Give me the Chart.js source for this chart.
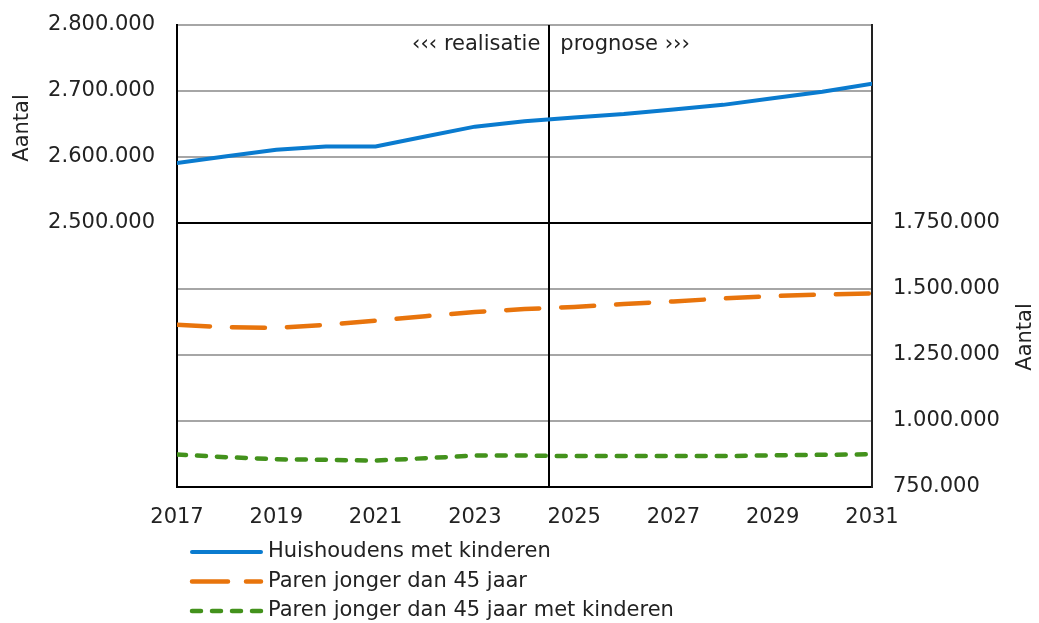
<!DOCTYPE html>
<html lang="nl">
<head>
    <meta charset="UTF-8">
    <title>Huishoudens met kinderen</title>
    <script src="https://cdn.jsdelivr.net/npm/chart.js"></script>
    <style>
        html, body { margin: 0; padding: 0; background: #fff; }
        #wrap { width: 1039px; height: 623px; position: relative; }
    </style>
</head>
<body>
<div id="wrap"><canvas id="myChart"></canvas></div>
<script>
    // data
    var jaren = [2017, 2018, 2019, 2020, 2021, 2022, 2023, 2024, 2025, 2026, 2027, 2028, 2029, 2030, 2031];
    var huishoudensMetKinderen = [2591000, 2601000, 2611000, 2616000, 2616000, 2631000, 2646000, 2654000, 2660000, 2665000, 2672000, 2679000, 2689000, 2699000, 2711000];
    var parenJonger45 = [1365000, 1355000, 1353000, 1364000, 1380000, 1397000, 1413000, 1424000, 1432000, 1443000, 1453000, 1464000, 1473000, 1479000, 1483000];
    var parenJonger45Kinderen = [873000, 863000, 855000, 853000, 850000, 859000, 869000, 869000, 867000, 867000, 867000, 867000, 870000, 872000, 874000];
    var reeksNamen = ['Huishoudens met kinderen', 'Paren jonger dan 45 jaar', 'Paren jonger dan 45 jaar met kinderen'];
    var grensJaar = 2024.5;
    var tekstLinks = '\u2039\u2039\u2039 realisatie';
    var tekstRechts = 'prognose \u203a\u203a\u203a';
    var asTitel = 'Aantal';

    var FONT = '"DejaVu Sans", Verdana, sans-serif';
    var FS = 21;
    var TXT = '#222';

    function punten(reeks) {
        return reeks.map(function (v, i) { return { x: jaren[i], y: v }; });
    }
    function metPunten(v) {
        return String(v).replace(/\B(?=(\d{3})+(?!\d))/g, '.');
    }
    function geenOverloop(s) {
        s.paddingTop = 0;
        s.paddingBottom = 0;
    }

    // vertical line, annotations, axis titles and legend
    var extra = {
        id: 'extra',
        beforeDatasetsDraw: function (chart) {
            var c = chart.ctx, a = chart.chartArea;
            var x = Math.round(chart.scales.x.getPixelForValue(grensJaar));
            c.save();
            c.strokeStyle = '#000';
            c.lineWidth = 2;
            c.beginPath();
            c.moveTo(x, a.top);
            c.lineTo(x, a.bottom);
            c.stroke();
            c.restore();
        },
        afterDraw: function (chart) {
            var c = chart.ctx;
            var x = chart.scales.x.getPixelForValue(grensJaar);
            c.save();
            c.fillStyle = TXT;
            c.font = FS + 'px ' + FONT;
            c.textBaseline = 'middle';
            c.textAlign = 'right';
            c.fillText(tekstLinks, x - 9, 45);
            c.textAlign = 'left';
            c.fillText(tekstRechts, x + 11, 45);

            // axis titles
            c.textAlign = 'center';
            c.save();
            c.translate(23, 128);
            c.rotate(-Math.PI / 2);
            c.fillText(asTitel, 0, 0);
            c.restore();
            c.save();
            c.translate(1026, 337);
            c.rotate(-Math.PI / 2);
            c.fillText(asTitel, 0, 0);
            c.restore();

            // legend
            c.textAlign = 'left';
            chart.data.datasets.forEach(function (ds, i) {
                var y = 552 + i * 29.5;
                c.save();
                c.strokeStyle = ds.borderColor;
                c.lineWidth = ds.borderWidth;
                c.lineCap = 'round';
                c.setLineDash(ds.legendDash || ds.borderDash || []);
                c.beginPath();
                c.moveTo(192, y);
                c.lineTo(261, y);
                c.stroke();
                c.restore();
                c.fillText(ds.label, 268, y);
            });
            c.restore();
        }
    };

    var ctx = document.getElementById('myChart').getContext('2d');
    var myChart = new Chart(ctx, {
        type: 'line',
        data: {
            datasets: [{
                label: reeksNamen[0],
                data: punten(huishoudensMetKinderen),
                yAxisID: 'y',
                borderColor: '#0a7bcf',
                borderWidth: 4,
                borderCapStyle: 'round'
            }, {
                label: reeksNamen[1],
                data: punten(parenJonger45),
                yAxisID: 'y2',
                borderColor: '#e8740c',
                borderWidth: 4.5,
                borderDash: [33, 22],
                legendDash: [36, 18],
                borderCapStyle: 'round'
            }, {
                label: reeksNamen[2],
                data: punten(parenJonger45Kinderen),
                yAxisID: 'y2',
                borderColor: '#43921c',
                borderWidth: 4.5,
                borderDash: [9, 11],
                borderCapStyle: 'round'
            }]
        },
        options: {
            responsive: true,
            maintainAspectRatio: false,
            animation: false,
            elements: { point: { radius: 0 }, line: { tension: 0, fill: false } },
            layout: { padding: { top: 25, bottom: 96, left: 0, right: 0 } },
            plugins: { legend: { display: false }, tooltip: { enabled: false } },
            scales: {
                x: {
                    type: 'linear',
                    min: 2017,
                    max: 2031,
                    grid: { display: false, drawTicks: false },
                    border: { display: true, color: '#000', width: 2 },
                    ticks: {
                        stepSize: 2,
                        padding: 18,
                        color: TXT,
                        font: { family: FONT, size: FS },
                        maxRotation: 0,
                        callback: function (v) { return String(v); }
                    },
                    afterFit: function (s) { s.height = 40; s.paddingLeft = 0; s.paddingRight = 0; }
                },
                y: {
                    position: 'left',
                    min: 2100000,
                    max: 2800000,
                    grid: {
                        drawTicks: false,
                        lineWidth: 2,
                        color: function (c) {
                            var v = c.tick ? c.tick.value : 0;
                            return (v === 2500000 || v === 2100000) ? '#000' : '#a6a6a6';
                        }
                    },
                    border: { display: true, color: '#000', width: 2 },
                    ticks: {
                        stepSize: 100000,
                        padding: 22,
                        color: TXT,
                        font: { family: FONT, size: FS },
                        callback: function (v) { return v >= 2500000 ? metPunten(v) : ''; }
                    },
                    afterFit: function (s) { s.width = 177; geenOverloop(s); }
                },
                y2: {
                    position: 'right',
                    min: 750000,
                    max: 2500000,
                    grid: { display: false, drawTicks: false },
                    border: { display: true, color: '#222', width: 2 },
                    ticks: {
                        stepSize: 250000,
                        padding: 21,
                        color: TXT,
                        font: { family: FONT, size: FS },
                        callback: function (v) { return v <= 1750000 ? metPunten(v) : ''; }
                    },
                    afterFit: function (s) { s.width = 167; geenOverloop(s); }
                }
            }
        },
        plugins: [extra]
    });
</script>
</body>
</html>
